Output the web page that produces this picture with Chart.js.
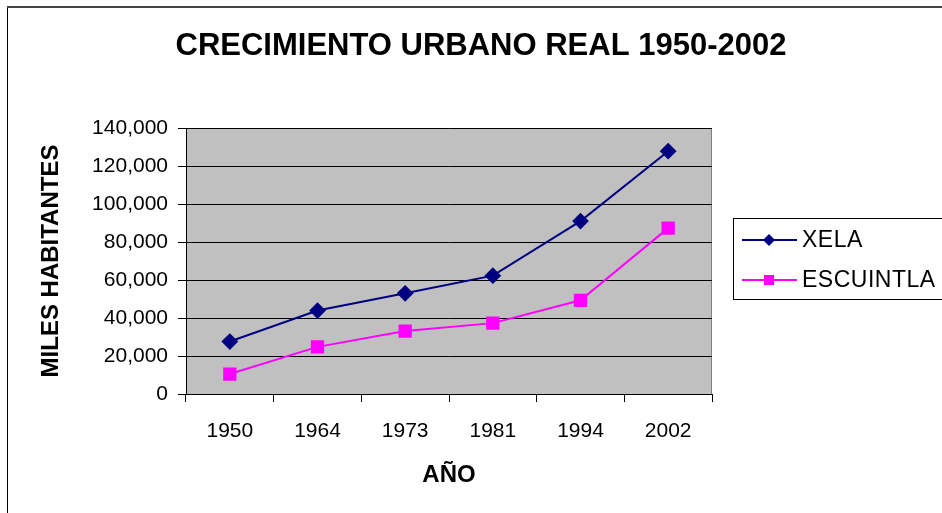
<!DOCTYPE html>
<html>
<head>
<meta charset="utf-8">
<script src="https://cdn.jsdelivr.net/npm/chart.js@4"></script>
<style>
  body { margin: 0; background: #fff; }
  #wrap { width: 942px; height: 513px; position: relative; }
</style>
</head>
<body>
<div id="wrap"><canvas id="lineChart"></canvas></div>
<script>
var years = ["1950", "1964", "1973", "1981", "1994", "2002"];
var xela = [27600, 43900, 53000, 62300, 91000, 127800];
var escuintla = [10500, 24800, 33100, 37300, 49300, 87300];
var seriesNames = ["XELA", "ESCUINTLA"];
var chartTitle = "CRECIMIENTO URBANO REAL 1950-2002";
var yTitle = "MILES HABITANTES";
var xTitle = "AÑO";

var lineData = {
    labels: years,
    datasets: [{
            label: seriesNames[0],
            data: xela,
            borderColor: "#000080",
            backgroundColor: "#000080",
            borderWidth: 2,
            pointStyle: 'rectRot',
            pointRadius: 7,
            pointHoverRadius: 7
        }, {
            label: seriesNames[1],
            data: escuintla,
            borderColor: "#FF00FF",
            backgroundColor: "#FF00FF",
            borderWidth: 2,
            pointStyle: 'rect',
            pointRadius: 8,
            pointHoverRadius: 8
        }]
};

// grey plot area, outer frame, title and the boxed legend
var decorations = {
    id: 'decorations',
    beforeDraw: function(chart) {
        var ctx = chart.ctx, a = chart.chartArea;
        ctx.save();
        ctx.fillStyle = '#fff';
        ctx.fillRect(0, 0, chart.width, chart.height);
        ctx.fillStyle = '#C0C0C0';
        ctx.fillRect(a.left, a.top, a.right - a.left, a.bottom - a.top);
        ctx.strokeStyle = '#808080';
        ctx.lineWidth = 1;
        ctx.strokeRect(a.left + 0.5, a.top + 0.5, a.right - a.left - 1, a.bottom - a.top);
        // chart frame
        ctx.strokeStyle = '#000';
        ctx.beginPath();
        ctx.moveTo(7.5, chart.height);
        ctx.lineTo(7.5, 7);
        ctx.stroke();
        ctx.strokeStyle = '#444';
        ctx.lineWidth = 2;
        ctx.beginPath();
        ctx.moveTo(7, 7);
        ctx.lineTo(chart.width, 7);
        ctx.stroke();
        ctx.restore();
    },
    afterDraw: function(chart) {
        var ctx = chart.ctx, a = chart.chartArea;
        ctx.save();
        ctx.fillStyle = '#000';
        ctx.font = 'bold 31px "Liberation Sans", Arial, sans-serif';
        ctx.textAlign = 'center';
        ctx.textBaseline = 'middle';
        ctx.fillText(chartTitle, chart.width / 2 + 10, 46);

        // legend
        var lx = a.right + 21, ly = a.top + 90;
        ctx.strokeStyle = '#000';
        ctx.lineWidth = 1;
        ctx.strokeRect(lx + 0.5, ly + 0.5, chart.width - lx + 5, 81);
        ctx.font = '23px "Liberation Sans", Arial, sans-serif';
        ctx.letterSpacing = '0.5px';
        ctx.textAlign = 'left';
        chart.data.datasets.forEach(function(ds, i) {
            var y = ly + 22 + i * 40;
            ctx.strokeStyle = ds.borderColor;
            ctx.lineWidth = 2;
            ctx.beginPath();
            ctx.moveTo(lx + 9, y);
            ctx.lineTo(lx + 64, y);
            ctx.stroke();
            ctx.fillStyle = ds.backgroundColor;
            ctx.beginPath();
            if (ds.pointStyle === 'rectRot') {
                ctx.moveTo(lx + 36, y - 6);
                ctx.lineTo(lx + 42, y);
                ctx.lineTo(lx + 36, y + 6);
                ctx.lineTo(lx + 30, y);
                ctx.closePath();
            } else {
                ctx.rect(lx + 31, y - 5, 10, 10);
            }
            ctx.fill();
            ctx.fillStyle = '#000';
            ctx.fillText(ds.label, lx + 69, y + 1);
        });
        ctx.restore();
    }
};

var lineOptions = {
    responsive: true,
    maintainAspectRatio: false,
    animation: false,
    layout: { padding: { left: 0, top: 128, right: 230, bottom: 0 } },
    plugins: {
        legend: { display: false },
        title: { display: false },
        tooltip: { enabled: false }
    },
    scales: {
        x: {
            offset: true,
            afterFit: function(scale) { scale.height = 119; },
            grid: { offset: true, drawOnChartArea: false, tickLength: 8, color: '#000' },
            border: { color: '#000' },
            ticks: { color: '#000', padding: 17, font: { family: '"Liberation Sans", Arial', size: 21 } },
            title: {
                display: true, text: xTitle, color: '#000',
                padding: { top: 0, bottom: 23 },
                font: { family: '"Liberation Sans", Arial', size: 24, weight: 'bold' }
            }
        },
        y: {
            min: 0,
            max: 140000,
            afterFit: function(scale) { scale.width = 186; },
            grid: { color: '#000', tickLength: 8 },
            border: { color: '#000' },
            ticks: {
                stepSize: 20000, color: '#000', padding: 10,
                font: { family: '"Liberation Sans", Arial', size: 21 },
                callback: function(v) { return v.toLocaleString('en-US'); }
            },
            title: {
                display: true, text: yTitle, color: '#000',
                padding: { top: 37, bottom: 0 },
                font: { family: '"Liberation Sans", Arial', size: 24, weight: 'bold' }
            }
        }
    }
};

var ctx2 = document.getElementById("lineChart");
if (ctx2) {
    var urbanChart = new Chart(ctx2, {
        type: 'line',
        data: lineData,
        options: lineOptions,
        plugins: [decorations]
    });
}
</script>
</body>
</html>
